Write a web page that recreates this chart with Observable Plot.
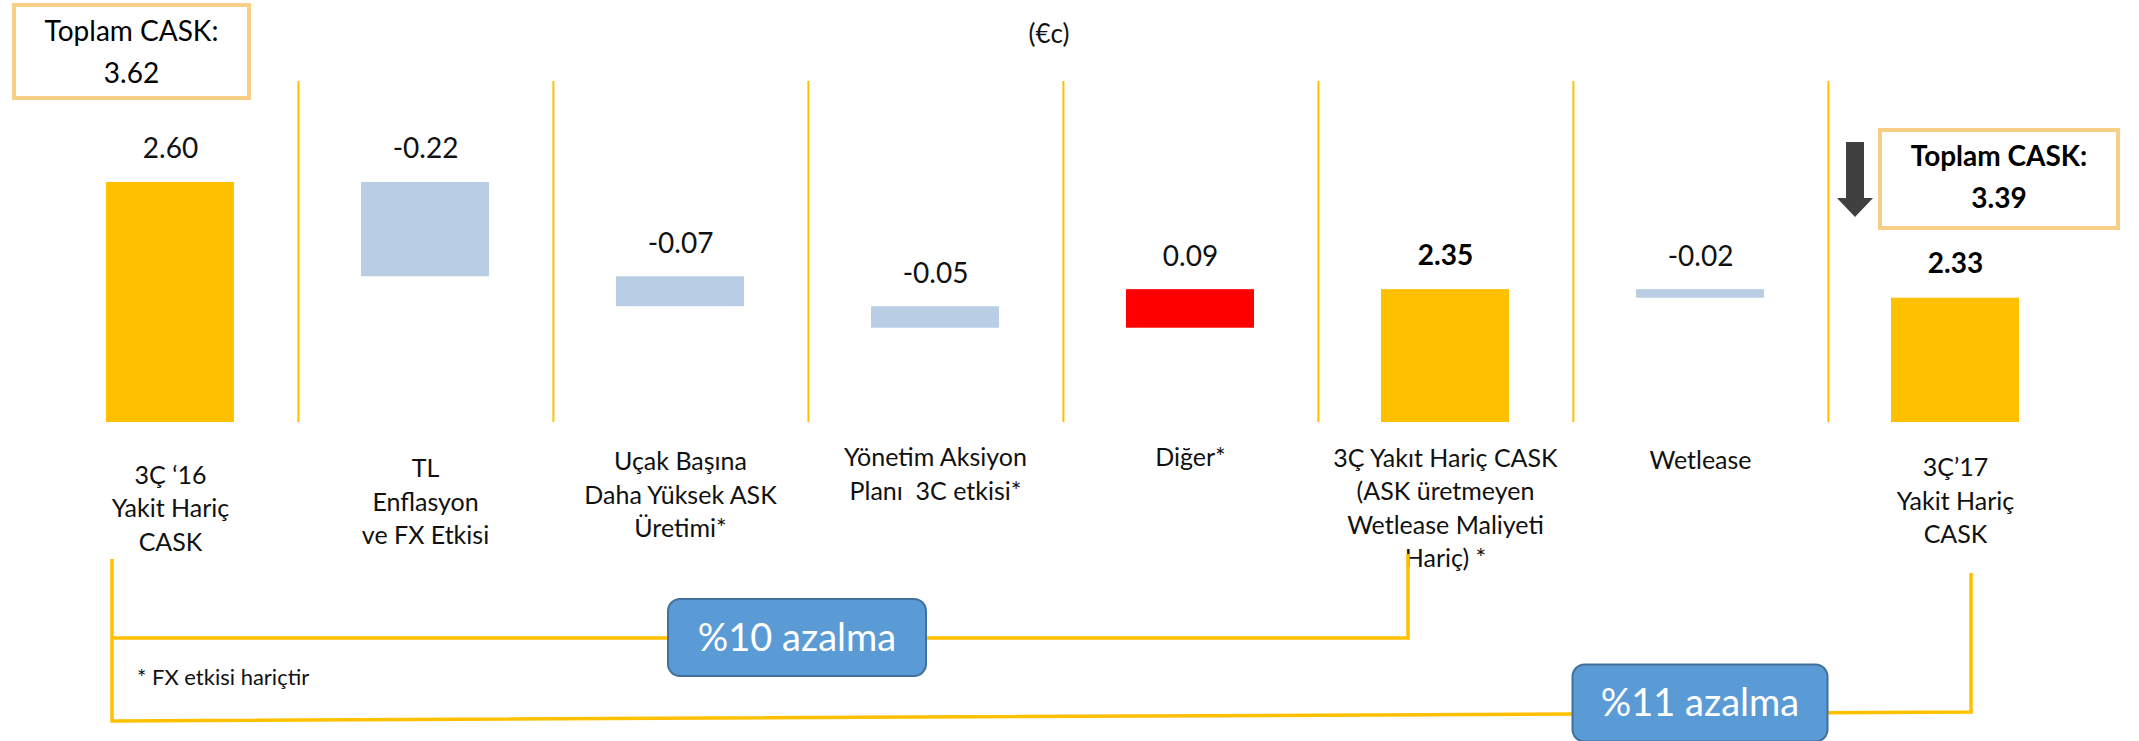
<!DOCTYPE html>
<html>
<head>
<meta charset="utf-8">
<script src="https://cdn.jsdelivr.net/npm/d3@7"></script>
<script src="https://cdn.jsdelivr.net/npm/@observablehq/plot@0.6"></script>
<style>
html, body { margin: 0; padding: 0; background: #fff; overflow: hidden; }
#chart svg { display: block; }
</style>
</head>
<body>
<div id="chart"></div>
<script>
// ---- data ----
const categories = ["q316", "tl", "ucak", "yonetim", "diger", "q317ex", "wetlease", "q317"];
const categoryLabels = [
  "3Ç ‘16\nYakit Hariç\nCASK",
  "TL\nEnflasyon\nve FX Etkisi",
  "Uçak Başına\nDaha Yüksek ASK\nÜretimi*",
  "Yönetim Aksiyon\nPlanı  3C etkisi*",
  "Diğer*",
  "3Ç Yakıt Hariç CASK\n(ASK üretmeyen\nWetlease Maliyeti\nHariç) *",
  "Wetlease",
  "3Ç’17\nYakit Hariç\nCASK"
];
const values = [2.60, -0.22, -0.07, -0.05, 0.09, 2.35, -0.02, 2.33];
const kinds = ["total", "delta", "delta", "delta", "delta", "total", "delta", "total"];
const valueLabels = ["2.60", "-0.22", "-0.07", "-0.05", "0.09", "2.35", "-0.02", "2.33"];
const totalBoxTitle = "Toplam CASK:";
const totalBoxValues = ["3.62", "3.39"];
const reductionLabels = ["%10 azalma", "%11 azalma"];
const footnote = "* FX etkisi hariçtir";
const unitLabel = "(€c)";
const yDomain = [2.04, 2.60];

// ---- layout ----
const W = 2139, H = 741;
const frameTop = 81, baseline = 422, topPx = 182;
const xRange = [39.2, 2085.6];
const labelCenters = [506, 499.5, 492.5, 472, 455, 506, 458, 498.5];
const FONT = "Lato, 'Open Sans', sans-serif";
const GOLD = "#FFC000";

// ---- waterfall rows ----
let running = 0;
const rows = categories.map((c, i) => {
  let y1, y2, color;
  if (kinds[i] === "total") {
    y1 = yDomain[0]; y2 = values[i]; running = values[i]; color = GOLD;
  } else {
    y1 = running; y2 = running + values[i]; running = y2;
    color = values[i] < 0 ? "#B9CDE5" : "#FF0000";
  }
  return {cat: c, y1, y2, top: Math.max(y1, y2), color, kind: kinds[i], label: valueLabels[i]};
});

const step = (xRange[1] - xRange[0]) / categories.length;

const plot = Plot.plot({
  width: W,
  height: H,
  marginTop: frameTop,
  marginBottom: H - baseline,
  marginLeft: 0,
  marginRight: 0,
  style: {fontFamily: FONT, background: "white", color: "#000"},
  x: {domain: categories, range: xRange, paddingInner: 0.5, paddingOuter: 0.25, axis: null},
  y: {domain: yDomain, range: [baseline, topPx], axis: null},
  color: {type: "identity"},
  marks: [
    Plot.ruleX(categories.slice(0, -1), {x: d => d, dx: step / 2, stroke: GOLD, strokeWidth: 2}),
    Plot.barY(rows, {x: "cat", y1: "y1", y2: "y2", fill: "color"}),
    Plot.text(rows.filter(r => r.kind !== "total"), {x: "cat", y: "top", text: "label", dy: -33, fontSize: 28, fill: "#111"}),
    Plot.text(rows.filter(r => r.kind === "total" && r.cat === "q316"), {x: "cat", y: "top", text: "label", dy: -33, fontSize: 28, fill: "#111"}),
    Plot.text(rows.filter(r => r.kind === "total" && r.cat !== "q316"), {x: "cat", y: "top", text: "label", dy: -34, fontSize: 28, fontWeight: "bold", fill: "#000"}),
    ...categoryLabels.map((t, i) => Plot.text([categories[i]], {
      x: d => d, text: () => t, frameAnchor: "bottom", dy: labelCenters[i] - baseline,
      lineAnchor: "middle", lineHeight: 1.34, fontSize: 25, fill: "#111"
    }))
  ]
});

document.getElementById("chart").appendChild(plot);

// ---- annotations (boxes, arrow, brackets, pills) ----
const xs = plot.scale("x");
const center = c => xs.apply(c) + xs.bandwidth / 2;
const svg = d3.select(plot);
const g = svg.append("g").attr("font-family", FONT);

function totalBox(cx, top, w, h, value, bold) {
  g.append("rect").attr("x", cx - w / 2).attr("y", top).attr("width", w).attr("height", h)
    .attr("fill", "#fff").attr("stroke", "#F8CF86").attr("stroke-width", 4);
  const t = g.append("text").attr("text-anchor", "middle").attr("font-size", 28)
    .attr("fill", "#000").attr("font-weight", bold ? "bold" : "normal");
  t.append("tspan").attr("x", cx).attr("y", top + 26).attr("dy", "0.35em").text(totalBoxTitle);
  t.append("tspan").attr("x", cx).attr("y", top + 68).attr("dy", "0.35em").text(value);
}
totalBox(center("q316") - 38.5, 5, 235, 93, totalBoxValues[0], false);
totalBox(center("q317") + 44, 130, 238, 98, totalBoxValues[1], true);

// down arrow
const ax = center("q317") - 100;
g.append("path")
  .attr("d", `M${ax - 9},142 H${ax + 9} V198 H${ax + 18} L${ax},217 L${ax - 18},198 H${ax - 9} Z`)
  .attr("fill", "#404040");

// unit label
g.append("text").attr("x", 1049).attr("y", 34).attr("dy", "0.35em").attr("text-anchor", "middle")
  .attr("font-size", 26).attr("fill", "#111").text(unitLabel);

// brackets
const xL = center("q316") - 58;
const xM = center("q317ex") - 37;
const xR = center("q317") + 16;
g.append("path").attr("d", `M${xM},554 V638 H${xL}`).attr("fill", "none").attr("stroke", GOLD).attr("stroke-width", 3.5);
g.append("path").attr("d", `M${xL},559 V721`).attr("fill", "none").attr("stroke", GOLD).attr("stroke-width", 3.5);
g.append("path").attr("d", `M${xL - 1.5},721 L${xR},712 V573`).attr("fill", "none").attr("stroke", GOLD).attr("stroke-width", 3.5);

// footnote
g.append("text").attr("x", 137).attr("y", 677).attr("dy", "0.35em").attr("text-anchor", "start")
  .attr("font-size", 22).attr("fill", "#111").text(footnote);

// pills
function pill(cx, cy, w, h, label) {
  g.append("rect").attr("x", cx - w / 2).attr("y", cy - h / 2).attr("width", w).attr("height", h)
    .attr("rx", 12).attr("ry", 12).attr("fill", "#5B9BD5").attr("stroke", "#41719C").attr("stroke-width", 2);
  g.append("text").attr("x", cx).attr("y", cy).attr("dy", "0.35em").attr("text-anchor", "middle")
    .attr("font-size", 38).attr("fill", "#fff").text(label);
}
pill(797, 637.5, 258, 77, reductionLabels[0]);
pill(1700, 703, 255, 77, reductionLabels[1]);
</script>
</body>
</html>
